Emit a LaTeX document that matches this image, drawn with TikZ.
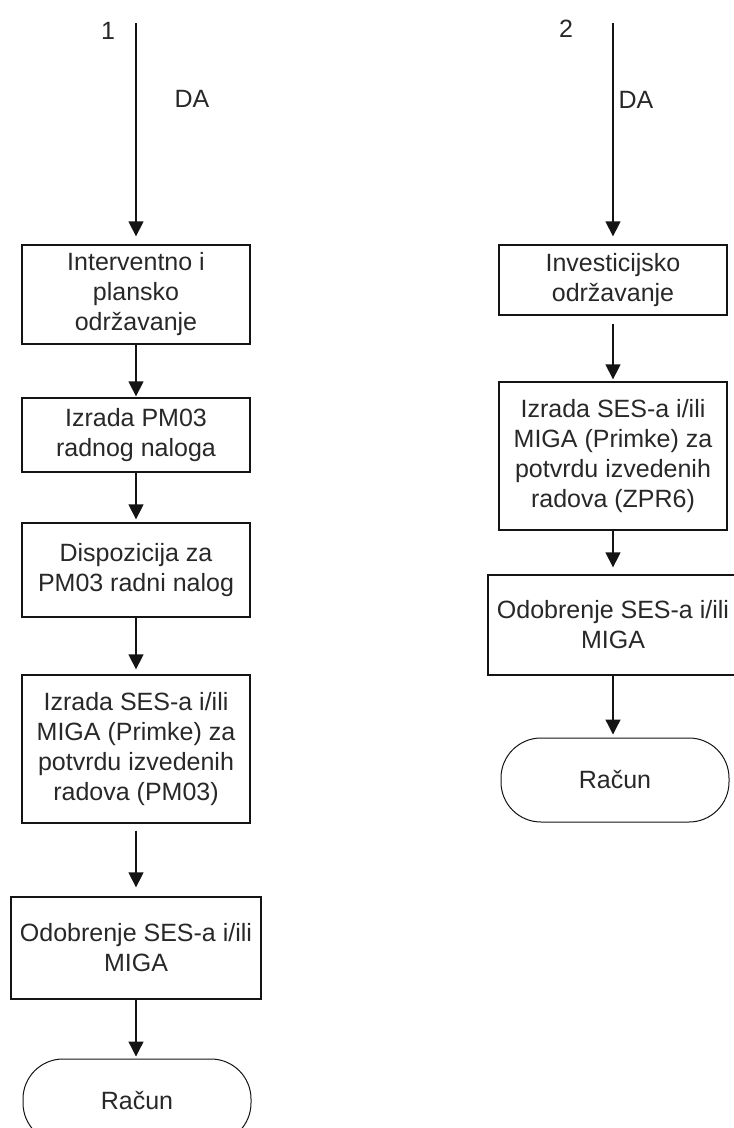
\documentclass[tikz,border=0pt]{standalone}
\usepackage{fontspec}
\setmainfont{Liberation Sans}
\usetikzlibrary{arrows.meta}
\definecolor{txt}{RGB}{40,40,40}
\definecolor{ln}{RGB}{20,20,20}
\begin{document}
\begin{tikzpicture}[x=1pt,y=-1pt,
  every node/.style={font=\fontsize{25}{30}\selectfont, text=txt},
  stepbox/.style={draw=ln, line width=1.3pt, rectangle, align=center,
    inner sep=0pt, minimum width=228pt},
  terminal/.style={draw=ln, line width=1pt, rectangle, rounded corners=40pt,
    align=center, inner sep=0pt, minimum width=228pt, minimum height=84pt},
  flow/.style={draw=ln, line width=1.3pt, -{Triangle[length=15pt,width=15pt]}},
  lbl/.style={inner sep=0pt}]
\useasboundingbox (0,0) rectangle (734,1128);
\fill[white] (0,0) rectangle (734,1128);

% left branch
\coordinate (s1) at (136,23);
\node[lbl] (n1) at (108,31) {1};
\node[lbl] (da1) at (192,99) {DA};
\node[stepbox, minimum height=99pt] (L1) at (136,294.5) {Interventno i\\plansko\\održavanje};
\node[stepbox, minimum height=74pt] (L2) at (136,435) {Izrada PM03\\radnog naloga};
\node[stepbox, minimum height=94pt] (L3) at (136,570) {Dispozicija za\\PM03 radni nalog};
\node[stepbox, minimum height=148pt] (L4) at (136,749) {Izrada SES-a i/ili\\MIGA (Primke) za\\potvrdu izvedenih\\radova (PM03)};
\node[stepbox, minimum height=102pt, minimum width=250pt] (L5) at (136,948) {Odobrenje SES-a i/ili\\MIGA};
\node[terminal] (L6) at (137,1101) {Račun};

\draw[flow, shorten >=8pt] (s1) -- (L1.north);
\draw[flow, shorten >=1pt] (L1.south) -- (L2.north);
\draw[flow, shorten >=3pt] (L2.south) -- (L3.north);
\draw[flow, shorten >=5pt] (L3.south) -- (L4.north);
\draw[flow, shorten <=7pt, shorten >=9pt] (L4.south) -- (L5.north);
\draw[flow, shorten >=2pt] (L5.south) -- (L5.south |- L6.north);

% right branch
\coordinate (s2) at (613,23);
\node[lbl] (n2) at (566,29) {2};
\node[lbl] (da2) at (636,100) {DA};
\node[stepbox, minimum height=70pt] (R1) at (613,280) {Investicijsko\\održavanje};
\node[stepbox, minimum height=148pt] (R2) at (613,456) {Izrada SES-a i/ili\\MIGA (Primke) za\\potvrdu izvedenih\\radova (ZPR6)};
\node[stepbox, minimum height=100pt, minimum width=250pt] (R3) at (613,625) {Odobrenje SES-a i/ili\\MIGA};
\node[terminal] (R4) at (615,780) {Račun};

\draw[flow, shorten >=8pt] (s2) -- (R1.north);
\draw[flow, shorten <=8pt, shorten >=2pt] (R1.south) -- (R2.north);
\draw[flow, shorten >=7pt] (R2.south) -- (R3.north);
\draw[flow, shorten >=3pt] (R3.south) -- (R3.south |- R4.north);
\end{tikzpicture}
\end{document}
